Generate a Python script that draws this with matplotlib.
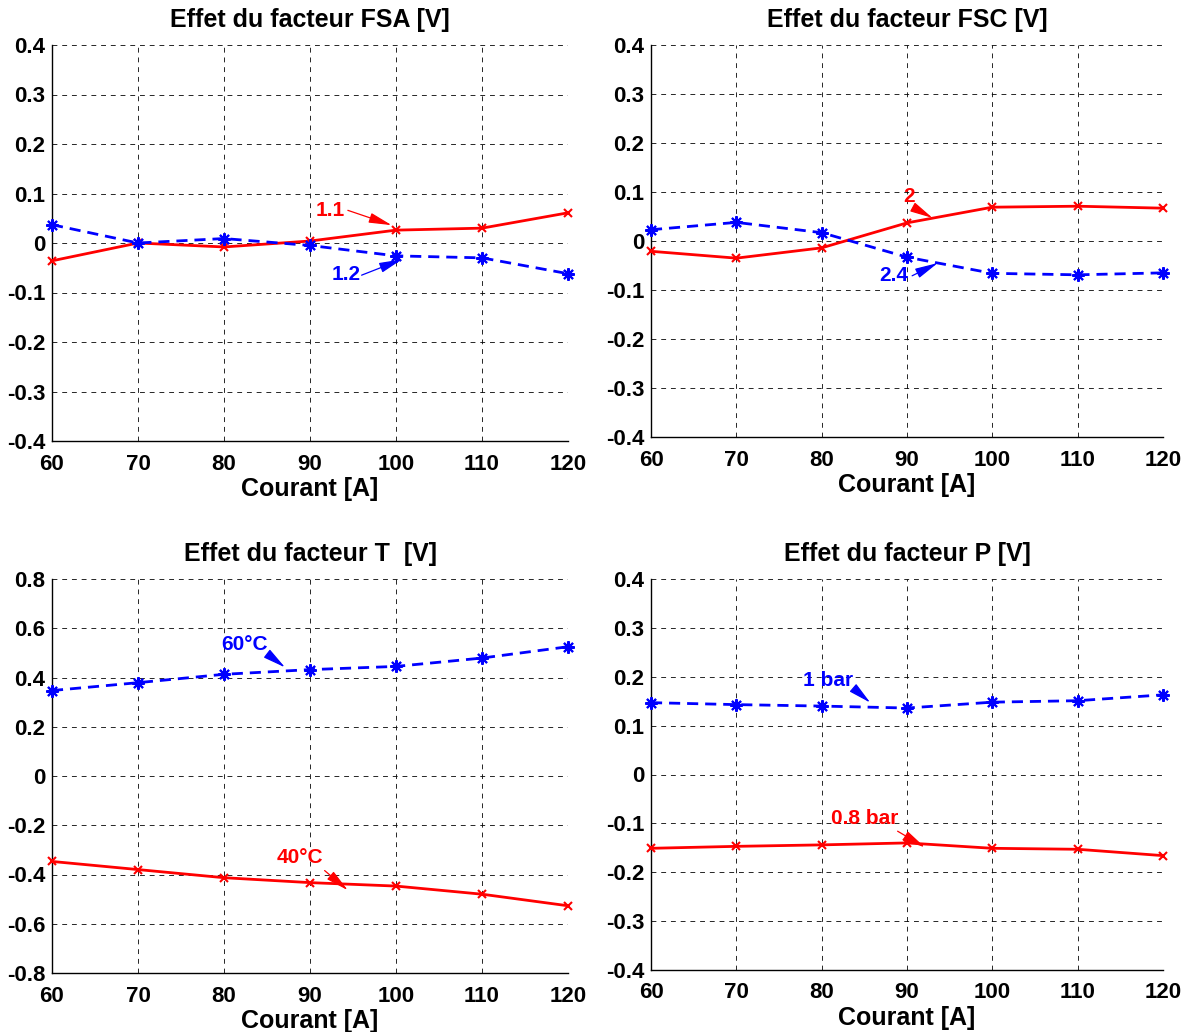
import matplotlib
matplotlib.use("Agg")
import matplotlib.pyplot as plt

plt.rcParams["font.family"] = ["Liberation Sans", "DejaVu Sans"]
plt.rcParams["font.weight"] = "bold"

courant = [60, 70, 80, 90, 100, 110, 120]

# facteur FSA
fsa_haut = [-0.036, 0.0, -0.008, 0.004, 0.026, 0.030, 0.061]
fsa_bas = [0.037, 0.0, 0.009, -0.005, -0.026, -0.030, -0.062]

# facteur FSC
fsc_haut = [-0.021, -0.035, -0.014, 0.037, 0.069, 0.071, 0.067]
fsc_bas = [0.023, 0.038, 0.017, -0.033, -0.066, -0.069, -0.065]

# facteur T
t_60 = [0.347, 0.379, 0.413, 0.432, 0.445, 0.479, 0.525]
t_40 = [-0.347, -0.380, -0.413, -0.433, -0.447, -0.480, -0.527]

# facteur P
p_1bar = [0.147, 0.143, 0.140, 0.136, 0.148, 0.151, 0.163]
p_08bar = [-0.151, -0.147, -0.144, -0.140, -0.151, -0.153, -0.166]

W, H = 1191, 1032
fig = plt.figure(figsize=(W / 100, H / 100), dpi=100)

ASTER = (8, 2, 0)
RED = "#ff0000"
BLUE = "#0000ff"


def make_axes(rect_px, title, ylim, yticks):
    l, t, r, b = rect_px
    ax = fig.add_axes([l / W, 1 - b / H, (r - l) / W, (b - t) / H])
    ax.set_xlim(60, 120)
    ax.set_ylim(*ylim)
    ax.set_xticks(courant)
    ax.set_yticks(yticks)
    ax.set_yticklabels([("%g" % v) for v in yticks])
    ax.grid(True, color="k", linestyle=(0, (5, 5)), linewidth=0.7, alpha=0.85)
    ax.spines["top"].set_visible(False)
    ax.spines["right"].set_visible(False)
    for s in ("left", "bottom"):
        ax.spines[s].set_linewidth(1.0)
    ax.tick_params(direction="in", length=0, labelsize=16)
    ax.tick_params(axis="x", pad=9)
    ax.tick_params(axis="y", pad=5)
    for lab in ax.get_xticklabels() + ax.get_yticklabels():
        lab.set_fontweight("bold")
    ax.set_title(title, fontsize=18, fontweight="bold", pad=13)
    ax.set_xlabel("Courant [A]", fontsize=18, fontweight="bold", labelpad=2)
    return ax


def red_line(ax, y):
    ax.plot(courant, y, color=RED, linewidth=2, marker="x",
            markersize=6, markeredgewidth=1.5, clip_on=False, zorder=3)


def blue_line(ax, y):
    ax.plot(courant, y, color=BLUE, linewidth=2, linestyle=(0, (4, 2.5)),
            marker=ASTER, markersize=9, markeredgewidth=1.5, clip_on=False, zorder=3)


def note(ax, text, color, pos, tail, head):
    ax.text(pos[0], pos[1], text, color=color, fontsize=15, fontweight="bold",
            ha="center", va="center", zorder=4)
    ax.annotate("", xy=head, xytext=tail,
                arrowprops=dict(arrowstyle="-|>,head_length=1.0,head_width=0.22",
                                color=color, lw=0.9, mutation_scale=14,
                                shrinkA=0, shrinkB=0),
                zorder=4)


ticks4 = [-0.4, -0.3, -0.2, -0.1, 0, 0.1, 0.2, 0.3, 0.4]
ticks8 = [-0.8, -0.6, -0.4, -0.2, 0, 0.2, 0.4, 0.6, 0.8]

ax1 = make_axes((52, 45, 568, 441), "Effet du facteur FSA [V]", (-0.4, 0.4), ticks4)
red_line(ax1, fsa_haut)
blue_line(ax1, fsa_bas)
note(ax1, "1.1", RED, (92.4, 0.065), (94.4, 0.066), (99.5, 0.036))
note(ax1, "1.2", BLUE, (94.2, -0.064), (96.0, -0.065), (100.7, -0.033))

ax2 = make_axes((651, 45, 1163, 437), "Effet du facteur FSC [V]", (-0.4, 0.4), ticks4)
red_line(ax2, fsc_haut)
blue_line(ax2, fsc_bas)
note(ax2, "2", RED, (90.2, 0.090), (90.9, 0.067), (93.0, 0.047))
note(ax2, "2.4", BLUE, (88.5, -0.070), (90.6, -0.071), (93.6, -0.045))

ax3 = make_axes((52, 579, 568, 973), "Effet du facteur T  [V]", (-0.8, 0.8), ticks8)
blue_line(ax3, t_60)
red_line(ax3, t_40)
note(ax3, "60°C", BLUE, (82.4, 0.535), (85.3, 0.489), (87.1, 0.441))
note(ax3, "40°C", RED, (88.8, -0.33), (91.7, -0.384), (94.4, -0.464))

ax4 = make_axes((651, 579, 1163, 970), "Effet du facteur P [V]", (-0.4, 0.4), ticks4)
blue_line(ax4, p_1bar)
red_line(ax4, p_08bar)
note(ax4, "1 bar", BLUE, (80.8, 0.193), (84.1, 0.171), (85.7, 0.147))
note(ax4, "0.8 bar", RED, (85.0, -0.091), (88.9, -0.116), (92.1, -0.149))

fig.savefig("out.png", dpi=100)
